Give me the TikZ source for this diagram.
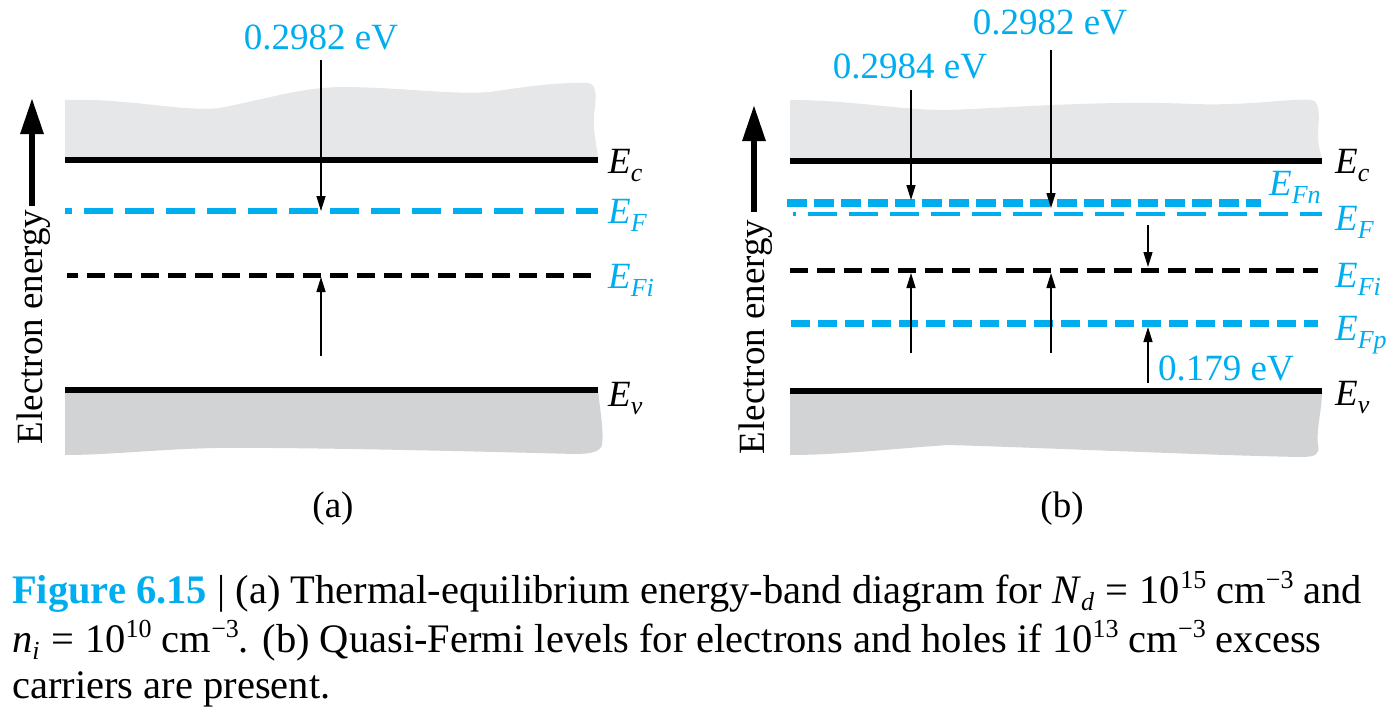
\documentclass[tikz,border=0pt]{standalone}
\usepackage{fontspec}
\setmainfont{Liberation Serif}
\usetikzlibrary{arrows.meta}
\definecolor{fblue}{RGB}{0,174,239}
\definecolor{topgray}{RGB}{230,231,232}
\definecolor{botgray}{RGB}{209,211,212}
\newcommand\lblfont{\fontsize{37}{44}\selectfont}
\newcommand\lsub[1]{\raisebox{-8pt}{\fontsize{26}{26}\selectfont\itshape #1}}
\newcommand\capfont{\fontsize{40.5}{47}\selectfont}
\newcommand\csup[1]{\raisebox{15pt}{\fontsize{26}{26}\selectfont #1}}
\newcommand\csub[1]{\raisebox{-7pt}{\fontsize{26}{26}\selectfont\itshape #1}}
\newcommand\ceq{\hspace{0.28em}=\hspace{0.28em}}
\tikzset{
  band/.style={line width=5.5pt},
  fermi/.style={line width=6pt, color=fblue, dash pattern=on 29pt off 12pt},
  fermithin/.style={line width=4.5pt, color=fblue, dash pattern=on 29pt off 12pt},
  quasi/.style={line width=7.5pt, color=fblue, dash pattern=on 20pt off 7pt},
  intr/.style={line width=5pt, dash pattern=on 18pt off 9pt},
  bigarrow/.style={line width=6pt, -{Triangle[length=36pt,width=22pt]}},
  thinarrow/.style={line width=1.4pt, -{Triangle[length=15pt,width=9pt]}},
  elbl/.style={inner sep=0pt, font=\lblfont\itshape},
  vlbl/.style={inner sep=0pt, font=\lblfont, text=fblue},
  axlbl/.style={inner sep=0pt, font=\lblfont, rotate=90},
  caplbl/.style={inner sep=0pt, font=\capfont, anchor=base west}
}
\begin{document}
\begin{tikzpicture}[x=1pt,y=-1pt]
\useasboundingbox (0,0) rectangle (1392,717);
% ---------- panel (a) ----------
\fill[topgray] (65,160) -- (65,100) .. controls (130,98) and (180,112) .. (220,108)
  .. controls (270,98) and (300,88) .. (340,87) .. controls (400,87) and (450,95) .. (490,92)
  .. controls (530,86) and (560,82) .. (588,83) .. controls (598,84) and (596,100) .. (594,115)
  .. controls (593,135) and (598,150) .. (598,160) -- cycle;
\fill[botgray] (65,390) -- (598,390) .. controls (600,410) and (604,430) .. (602,445)
  .. controls (600,452) and (590,454) .. (575,454) .. controls (500,452) and (300,447) .. (216,448)
  .. controls (160,449) and (110,455) .. (65,455) -- cycle;
\draw[band] (65,160) -- (598,160);
\draw[band] (65,390) -- (598,390);
\draw[fermi, dash phase=22pt] (65,211) -- (598,211);
\draw[intr, dash phase=7pt] (67,275) -- (598,275);
\node[elbl, anchor=base west] (Eca) at (608,173) {E\lsub{c}};
\node[elbl, anchor=base west, text=fblue] (EFa) at (608,223) {E\lsub{F}};
\node[elbl, anchor=base west, text=fblue] (EFia) at (608,288) {E\lsub{Fi}};
\node[elbl, anchor=base west] (Eva) at (608,406) {E\lsub{v}};
\coordinate (ea) at (32,206);
\coordinate (eb) at (32,98);
\draw[bigarrow] (ea) -- (eb);
\node[axlbl] (axa) at (34,327) {Electron energy};
\node[vlbl, anchor=base] (la) at (321,50) {0.2982 eV};
\coordinate (a1s) at (321,60);
\coordinate (a1e) at (321,211);
\draw[thinarrow] (a1s) -- (a1e);
\coordinate (a2s) at (321,356);
\coordinate (a2e) at (321,277);
\draw[thinarrow] (a2s) -- (a2e);
\node[inner sep=0pt, font=\lblfont, anchor=base] (capa) at (333,517) {(a)};
% ---------- panel (b) ----------
\fill[topgray] (790,160) -- (790,100) .. controls (850,100) and (900,110) .. (945,110)
  .. controls (1010,108) and (1100,100) .. (1194,104) .. controls (1250,106) and (1290,98) .. (1312,100)
  .. controls (1322,102) and (1318,125) .. (1318,135) .. controls (1318,150) and (1322,155) .. (1322,160) -- cycle;
\fill[botgray] (790,390) -- (1322,390) .. controls (1322,410) and (1316,430) .. (1318,445)
  .. controls (1320,455) and (1315,457) .. (1300,457) .. controls (1200,455) and (1050,448) .. (949,445)
  .. controls (900,448) and (840,455) .. (790,455) -- cycle;
\draw[band] (790,161) -- (1322,161);
\draw[band] (790,391) -- (1322,391);
\draw[quasi] (787,203) -- (1261,203);
\draw[fermithin, dash phase=26pt] (793,214) -- (1322,214);
\draw[intr] (790,270) -- (1318,270);
\draw[quasi, line width=7pt, dash pattern=on 19pt off 8pt] (791,323) -- (1318,323);
\node[elbl, anchor=base west] (Ecb) at (1335,173) {E\lsub{c}};
\node[elbl, anchor=base west, text=fblue] (EFnb) at (1269,195) {E\lsub{Fn}};
\node[elbl, anchor=base west, text=fblue] (EFb) at (1335,230) {E\lsub{F}};
\node[elbl, anchor=base west, text=fblue] (EFib) at (1335,287) {E\lsub{Fi}};
\node[elbl, anchor=base west, text=fblue] (EFpb) at (1335,340) {E\lsub{Fp}};
\node[elbl, anchor=base west] (Evb) at (1335,405) {E\lsub{v}};
\coordinate (eb1) at (754,212);
\coordinate (eb2) at (754,105);
\draw[bigarrow] (eb1) -- (eb2);
\node[axlbl] (axb) at (756,337) {Electron energy};
\node[vlbl, anchor=base] (lb1) at (910,78) {0.2984 eV};
\node[vlbl, anchor=base] (lb2) at (1050,35) {0.2982 eV};
\node[vlbl, anchor=base west] (lb3) at (1158,380) {0.179 eV};
\coordinate (b1s) at (911,90);   \coordinate (b1e) at (911,200);
\coordinate (b2s) at (1051,50);  \coordinate (b2e) at (1051,208);
\coordinate (b3s) at (1148,225); \coordinate (b3e) at (1148,267);
\coordinate (b4s) at (911,353);  \coordinate (b4e) at (911,273);
\coordinate (b5s) at (1051,353); \coordinate (b5e) at (1051,273);
\coordinate (b6s) at (1148,383); \coordinate (b6e) at (1148,327);
\draw[thinarrow] (b1s) -- (b1e);
\draw[thinarrow] (b2s) -- (b2e);
\draw[thinarrow] (b3s) -- (b3e);
\draw[thinarrow] (b4s) -- (b4e);
\draw[thinarrow] (b5s) -- (b5e);
\draw[thinarrow] (b6s) -- (b6e);
\node[inner sep=0pt, font=\lblfont, anchor=base] (capb) at (1062,517) {(b)};
% ---------- caption ----------
\node[caplbl] (c1) at (12,603) {{\bfseries\color{fblue}Figure 6.15} | (a) Thermal-equilibrium energy-band diagram for \textit{N}\csub{d}\ceq10\csup{15} cm\csup{−3} and};
\node[caplbl] (c2) at (12,652) {\textit{n}\csub{i}\ceq10\csup{10} cm\csup{−3}. (b) Quasi-Fermi levels for electrons and holes if 10\csup{13} cm\csup{−3} excess};
\node[caplbl] (c3) at (12,698) {carriers are present.};
\end{tikzpicture}
\end{document}
